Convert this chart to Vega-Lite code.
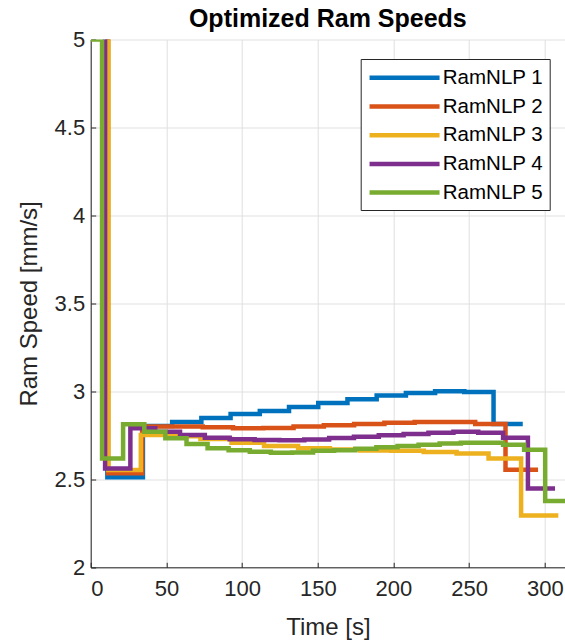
{
  "$schema": "https://vega.github.io/schema/vega-lite/v6.json",
  "autosize": "none",
  "width": 474.3,
  "height": 527.8,
  "padding": {"left": 90.7, "top": 39.5, "right": 0, "bottom": 73.7},
  "background": "white",
  "title": {"text": "Optimized Ram Speeds", "font": "Liberation Sans", "fontSize": 25, "fontWeight": "bold", "color": "#000000", "baseline": "alphabetic", "offset": -23},
  "config": {
    "view": {"stroke": null},
    "font": "Liberation Sans",
    "axis": {"gridColor": "#dfdfdf", "gridOpacity": 1, "gridWidth": 1, "domainColor": "#262626", "domainWidth": 1, "tickColor": "#262626", "tickSize": -5, "labelFont": "Liberation Sans", "labelFontSize": 22, "labelColor": "#262626", "titleFont": "Liberation Sans", "titleFontSize": 24, "titleFontWeight": "normal", "titleColor": "#262626"}
  },
  "data": {"values": [
    {"t": 0, "v": 6, "s": "RamNLP 1"},
    {"t": 11, "v": 2.512, "s": "RamNLP 1"},
    {"t": 34.5, "v": 2.803, "s": "RamNLP 1"},
    {"t": 53.8, "v": 2.826, "s": "RamNLP 1"},
    {"t": 73.1, "v": 2.848, "s": "RamNLP 1"},
    {"t": 92.4, "v": 2.871, "s": "RamNLP 1"},
    {"t": 111.7, "v": 2.889, "s": "RamNLP 1"},
    {"t": 131, "v": 2.911, "s": "RamNLP 1"},
    {"t": 150.3, "v": 2.934, "s": "RamNLP 1"},
    {"t": 169.6, "v": 2.955, "s": "RamNLP 1"},
    {"t": 188.9, "v": 2.977, "s": "RamNLP 1"},
    {"t": 208.2, "v": 2.991, "s": "RamNLP 1"},
    {"t": 227.5, "v": 3.0, "s": "RamNLP 1"},
    {"t": 246.8, "v": 2.997, "s": "RamNLP 1"},
    {"t": 266.1, "v": 2.815, "s": "RamNLP 1"},
    {"t": 285.4, "v": 2.815, "s": "RamNLP 1"},

    {"t": 0, "v": 6, "s": "RamNLP 2"},
    {"t": 11.5, "v": 2.535, "s": "RamNLP 2"},
    {"t": 34, "v": 2.8, "s": "RamNLP 2"},
    {"t": 54, "v": 2.8, "s": "RamNLP 2"},
    {"t": 74, "v": 2.796, "s": "RamNLP 2"},
    {"t": 94, "v": 2.79, "s": "RamNLP 2"},
    {"t": 114, "v": 2.792, "s": "RamNLP 2"},
    {"t": 134, "v": 2.8, "s": "RamNLP 2"},
    {"t": 154, "v": 2.807, "s": "RamNLP 2"},
    {"t": 174, "v": 2.815, "s": "RamNLP 2"},
    {"t": 194, "v": 2.822, "s": "RamNLP 2"},
    {"t": 214, "v": 2.826, "s": "RamNLP 2"},
    {"t": 234, "v": 2.826, "s": "RamNLP 2"},
    {"t": 254, "v": 2.815, "s": "RamNLP 2"},
    {"t": 274, "v": 2.554, "s": "RamNLP 2"},
    {"t": 295.5, "v": 2.554, "s": "RamNLP 2"},

    {"t": 0, "v": 6, "s": "RamNLP 3"},
    {"t": 11.7, "v": 2.553, "s": "RamNLP 3"},
    {"t": 33.1, "v": 2.752, "s": "RamNLP 3"},
    {"t": 52, "v": 2.745, "s": "RamNLP 3"},
    {"t": 72.5, "v": 2.729, "s": "RamNLP 3"},
    {"t": 93, "v": 2.708, "s": "RamNLP 3"},
    {"t": 114.5, "v": 2.689, "s": "RamNLP 3"},
    {"t": 137, "v": 2.676, "s": "RamNLP 3"},
    {"t": 158, "v": 2.67, "s": "RamNLP 3"},
    {"t": 178, "v": 2.664, "s": "RamNLP 3"},
    {"t": 198.5, "v": 2.662, "s": "RamNLP 3"},
    {"t": 220, "v": 2.656, "s": "RamNLP 3"},
    {"t": 241.7, "v": 2.647, "s": "RamNLP 3"},
    {"t": 262.8, "v": 2.619, "s": "RamNLP 3"},
    {"t": 284.3, "v": 2.294, "s": "RamNLP 3"},
    {"t": 308.9, "v": 2.294, "s": "RamNLP 3"},

    {"t": 0, "v": 6, "s": "RamNLP 4"},
    {"t": 9.5, "v": 2.561, "s": "RamNLP 4"},
    {"t": 26.2, "v": 2.79, "s": "RamNLP 4"},
    {"t": 42.6, "v": 2.771, "s": "RamNLP 4"},
    {"t": 59, "v": 2.752, "s": "RamNLP 4"},
    {"t": 75.4, "v": 2.737, "s": "RamNLP 4"},
    {"t": 91.8, "v": 2.728, "s": "RamNLP 4"},
    {"t": 108.3, "v": 2.723, "s": "RamNLP 4"},
    {"t": 124.7, "v": 2.722, "s": "RamNLP 4"},
    {"t": 141.1, "v": 2.727, "s": "RamNLP 4"},
    {"t": 157.5, "v": 2.735, "s": "RamNLP 4"},
    {"t": 173.9, "v": 2.742, "s": "RamNLP 4"},
    {"t": 190.3, "v": 2.75, "s": "RamNLP 4"},
    {"t": 206.7, "v": 2.758, "s": "RamNLP 4"},
    {"t": 223.1, "v": 2.765, "s": "RamNLP 4"},
    {"t": 239.6, "v": 2.77, "s": "RamNLP 4"},
    {"t": 256, "v": 2.765, "s": "RamNLP 4"},
    {"t": 272.4, "v": 2.737, "s": "RamNLP 4"},
    {"t": 288.8, "v": 2.448, "s": "RamNLP 4"},
    {"t": 306.7, "v": 2.448, "s": "RamNLP 4"},

    {"t": 0, "v": 5.0, "s": "RamNLP 5"},
    {"t": 7.5, "v": 2.619, "s": "RamNLP 5"},
    {"t": 21.4, "v": 2.813, "s": "RamNLP 5"},
    {"t": 35.4, "v": 2.77, "s": "RamNLP 5"},
    {"t": 49.3, "v": 2.733, "s": "RamNLP 5"},
    {"t": 63.3, "v": 2.701, "s": "RamNLP 5"},
    {"t": 77.2, "v": 2.676, "s": "RamNLP 5"},
    {"t": 91.1, "v": 2.666, "s": "RamNLP 5"},
    {"t": 105.1, "v": 2.657, "s": "RamNLP 5"},
    {"t": 119.0, "v": 2.651, "s": "RamNLP 5"},
    {"t": 133.0, "v": 2.653, "s": "RamNLP 5"},
    {"t": 146.9, "v": 2.662, "s": "RamNLP 5"},
    {"t": 160.8, "v": 2.665, "s": "RamNLP 5"},
    {"t": 174.8, "v": 2.674, "s": "RamNLP 5"},
    {"t": 188.7, "v": 2.682, "s": "RamNLP 5"},
    {"t": 202.7, "v": 2.689, "s": "RamNLP 5"},
    {"t": 216.6, "v": 2.697, "s": "RamNLP 5"},
    {"t": 230.5, "v": 2.704, "s": "RamNLP 5"},
    {"t": 244.5, "v": 2.708, "s": "RamNLP 5"},
    {"t": 258.4, "v": 2.708, "s": "RamNLP 5"},
    {"t": 272.4, "v": 2.696, "s": "RamNLP 5"},
    {"t": 286.3, "v": 2.668, "s": "RamNLP 5"},
    {"t": 300.2, "v": 2.377, "s": "RamNLP 5"},
    {"t": 314.2, "v": 2.377, "s": "RamNLP 5"}
  ]},
  "mark": {"type": "line", "interpolate": "step-after", "strokeWidth": 4.5, "clip": true},
  "encoding": {
    "x": {"field": "t", "type": "quantitative", "title": "Time [s]",
      "scale": {"domain": [0, 313.3], "nice": false, "zero": false},
      "axis": {"values": [0, 50, 100, 150, 200, 250, 300], "labelPadding": 16, "titlePadding": 16}},
    "y": {"field": "v", "type": "quantitative", "title": "Ram Speed [mm/s]",
      "scale": {"domain": [2, 5], "nice": false, "zero": false},
      "axis": {"values": [2, 2.5, 3, 3.5, 4, 4.5, 5], "format": "~g", "labelPadding": 11, "titlePadding": 13}},
    "color": {"field": "s", "type": "nominal",
      "scale": {"domain": ["RamNLP 1", "RamNLP 2", "RamNLP 3", "RamNLP 4", "RamNLP 5"], "range": ["#0072BD", "#D95319", "#EDB120", "#7E2F8E", "#77AC30"]},
      "legend": {"orient": "none", "legendX": 270, "legendY": 19.5, "title": null, "symbolType": "M-3.415,0H3.415", "symbolSize": 420.25, "symbolStrokeWidth": 4.5, "labelFont": "Liberation Sans", "labelFontSize": 20.5, "labelColor": "#000000", "padding": 6.3, "rowPadding": 5.7, "symbolOffset": 25.05, "labelOffset": 25.75, "strokeColor": "#262626", "fillColor": "white", "cornerRadius": 0}}
  }
}
